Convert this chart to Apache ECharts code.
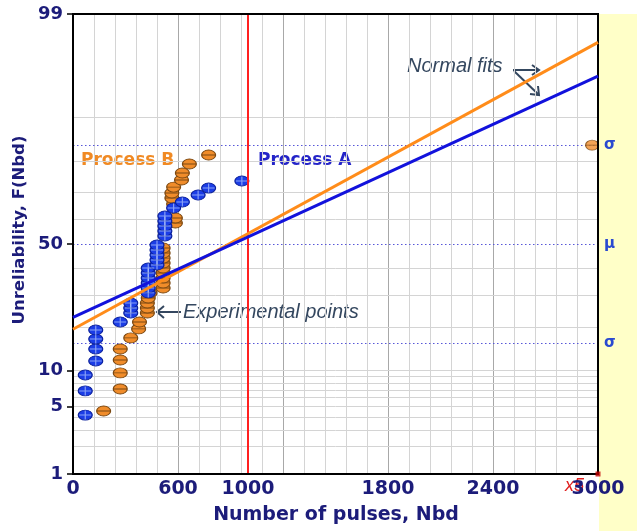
<!DOCTYPE html>
<html><head><meta charset="utf-8">
<script src="https://cdn.jsdelivr.net/npm/echarts@6/dist/echarts.min.js"></script>
<style>html,body{margin:0;padding:0;background:#fff}#c{width:637px;height:531px}</style>
</head><body><div id="c"></div>
<script>
// ---- tick labels ----
const xTickLabels = [0, 600, 1000, 1800, 2400, 3000];
const yTickLabels = [1, 5, 10, 50, 99];
const hGridProbs = [2, 3, 4, 5, 6, 7, 8, 9, 10, 20, 30, 40, 60, 70, 80, 90];
const sigmaProbs = [15.87, 50, 84.13];
const sigmaLabels = ['σ', 'μ', 'σ'];
// ---- Process A (blue) : number of pulses, unreliability % ----
const processA_N = [70, 70, 70, 130, 130, 130, 130, 270, 330, 330, 330, 430, 430, 430, 430, 430, 430, 480, 480, 480, 480, 480, 525, 525, 525, 525, 525, 575, 625, 715, 775, 965];
const processA_F = [4.18, 6.86, 9.26, 11.84, 14.41, 16.82, 19.22, 21.5, 24.26, 25.88, 27.53, 31.03, 32.82, 34.68, 36.54, 38.48, 40.40, 41.60, 43.56, 45.58, 47.57, 49.60, 53.23, 55.21, 57.22, 59.21, 61.14, 64.21, 66.46, 69.00, 71.43, 73.79];
// ---- Process B (orange) ----
const processB_N = [175, 270, 270, 270, 270, 330, 375, 380, 425, 425, 425, 430, 440, 515, 515, 515, 515, 515, 515, 515, 515, 515, 585, 585, 575, 565, 565, 575, 620, 625, 665, 775];
const processB_F = [4.56, 7.13, 9.61, 12.04, 14.41, 17.11, 19.52, 21.5, 24.26, 25.88, 27.53, 29.26, 31.03, 32.82, 34.68, 36.54, 38.48, 40.40, 42.39, 44.35, 46.37, 48.40, 58.40, 60.37, 65.69, 67.90, 69.71, 71.77, 74.12, 76.36, 79.08, 81.59];
// ---- normal fits ----
const fitA_N = [0, 3000];
const fitA_F = [22.93, 95.53];
const fitB_N = [0, 3000];
const fitB_F = [19.42, 97.93];
// ---- extra marks ----
const markerB_N = [2966];
const markerB_F = [84.13];
const offScale_N = [3000];
const offScale_F = [1];
const redLineN = [1000];

function probit(p) {
  const a = [-3.969683028665376e+01, 2.209460984245205e+02, -2.759285104469687e+02, 1.383577518672690e+02, -3.066479806614716e+01, 2.506628277459239e+00];
  const b = [-5.447609879822406e+01, 1.615858368580409e+02, -1.556989798598866e+02, 6.680131188771972e+01, -1.328068155288572e+01];
  const c = [-7.784894002430293e-03, -3.223964580411365e-01, -2.400758277161838e+00, -2.549732539343734e+00, 4.374664141464968e+00, 2.938163982698783e+00];
  const d = [7.784695709041462e-03, 3.224671290700398e-01, 2.445134137142996e+00, 3.754408661907416e+00];
  const plow = 0.02425, phigh = 1 - plow;
  let q, r;
  if (p < plow) { q = Math.sqrt(-2 * Math.log(p)); return (((((c[0]*q+c[1])*q+c[2])*q+c[3])*q+c[4])*q+c[5]) / ((((d[0]*q+d[1])*q+d[2])*q+d[3])*q+1); }
  if (p <= phigh) { q = p - 0.5; r = q*q; return (((((a[0]*r+a[1])*r+a[2])*r+a[3])*r+a[4])*r+a[5])*q / (((((b[0]*r+b[1])*r+b[2])*r+b[3])*r+b[4])*r+1); }
  q = Math.sqrt(-2 * Math.log(1 - p)); return -(((((c[0]*q+c[1])*q+c[2])*q+c[3])*q+c[4])*q+c[5]) / ((((d[0]*q+d[1])*q+d[2])*q+d[3])*q+1);
}
const z = f => probit(f / 100);
const pairs = (xs, fs) => xs.map((x, i) => [x, z(fs[i])]);

const ELLIPSE = 'path://M0,50A50,50 0 1 1 100,50A50,50 0 1 1 0,50Z';
const ELLIPSE_MID = 'path://M0,50A50,50 0 1 1 100,50A50,50 0 1 1 0,50ZM0,50L100,50';
const STRIPES = 'path://M0,50L100,50M50,10L50,90';
const NAVY = '#1c1c7a';
const SLATE = '#34475f';
const tickFont = '"DejaVu Sans", Verdana, sans-serif';

const yMin = z(1), yMax = z(99);
const yLabelVals = yTickLabels.map(z);

const chart = echarts.init(document.getElementById('c'), null, { renderer: 'canvas' });
chart.setOption({
  animation: false,
  backgroundColor: '#ffffff',
  grid: { left: 73, right: 39, top: 14, bottom: 57, show: true, borderColor: '#000', borderWidth: 2, backgroundColor: 'transparent', z: 6 },
  xAxis: [
    { type: 'value', min: 0, max: 3000, interval: 120, position: 'bottom',
      axisLine: { show: true, onZero: false, lineStyle: { color: '#000', width: 2 } }, axisTick: { show: false }, axisLabel: { show: false },
      splitLine: { show: true, lineStyle: { color: '#d4d4d4', width: 1 } } },
    { type: 'value', min: 0, max: 3000, interval: 600, position: 'bottom',
      axisLine: { show: false, onZero: false }, axisTick: { show: false }, axisLabel: { show: false },
      splitLine: { show: true, lineStyle: { color: '#a8a8a8', width: 1 } } },
    { type: 'value', min: 0, max: 3000, interval: 200, position: 'bottom',
      axisLine: { show: false, onZero: false }, axisTick: { show: false }, splitLine: { show: false },
      axisLabel: { show: true, interval: 0, margin: 6, showMinLabel: true, showMaxLabel: true,
        color: NAVY, fontFamily: tickFont, fontWeight: 'bold', fontSize: 19,
        formatter: v => xTickLabels.indexOf(v) >= 0 ? String(v) : '' } }
  ],
  yAxis: [{
    type: 'value', min: yMin, max: yMax,
    axisLine: { show: true, onZero: false, lineStyle: { color: '#000', width: 2 } },
    axisTick: { show: true, length: 6, customValues: yLabelVals, lineStyle: { color: '#000', width: 1.5 } },
    axisLabel: { show: true, margin: 10, customValues: yLabelVals, color: NAVY, fontFamily: tickFont, fontWeight: 'bold', fontSize: 18,
      formatter: v => { for (const t of yTickLabels) { if (Math.abs(z(t) - v) < 1e-6) return String(t); } return ''; } },
    splitLine: { show: false }
  }],
  series: [
    { type: 'line', name: 'hgrid', data: [], z: 1, silent: true,
      markLine: { silent: true, z: 1, symbol: ['none', 'none'], label: { show: false },
        lineStyle: { color: '#d4d4d4', width: 1, type: 'solid' },
        data: hGridProbs.map(p => ({ yAxis: z(p) })) } },
    { type: 'line', name: 'sigma', data: [], z: 2, silent: true,
      markLine: { silent: true, z: 2, symbol: ['none', 'none'],
        label: { show: true, position: 'end', formatter: '{b}', color: '#2a4ad0', fontSize: 15, fontWeight: 'bold', fontFamily: '"DejaVu Sans", sans-serif', distance: 6 },
        lineStyle: { color: '#5656d8', width: 1.2, type: [1.5, 2.5] },
        data: sigmaProbs.map((p, i) => ({ yAxis: z(p), name: sigmaLabels[i] })) } },
    { type: 'scatter', name: 'Process B', data: pairs(processB_N, processB_F), z: 3,
      symbol: ELLIPSE_MID, symbolSize: [14, 10],
      itemStyle: { color: '#f08c2a', borderColor: '#7a4812', borderWidth: 1, opacity: 1 } },
    { type: 'scatter', name: 'Process A', data: pairs(processA_N, processA_F), z: 4,
      symbol: ELLIPSE, symbolSize: [14, 10],
      itemStyle: { color: '#1b3de6', borderColor: '#0a1f9a', borderWidth: 1, opacity: 1 } },
    { type: 'scatter', name: 'Process A glare', data: pairs(processA_N, processA_F), z: 4, silent: true,
      symbol: STRIPES, symbolSize: [12, 9],
      itemStyle: { color: 'rgba(0,0,0,0)', borderColor: 'rgba(190,210,255,0.85)', borderWidth: 1 } },
    { type: 'scatter', name: 'B marker', data: pairs(markerB_N, markerB_F), z: 4, clip: false,
      symbol: ELLIPSE_MID, symbolSize: [13, 10],
      itemStyle: { color: '#f08c2a', borderColor: '#7a4812', borderWidth: 1 } },
    { type: 'line', name: 'redline', data: [], z: 5, silent: true,
      markLine: { silent: true, z: 5, symbol: ['none', 'none'], label: { show: false },
        lineStyle: { color: '#ff2020', width: 2, type: 'solid' },
        data: redLineN.map(v => ({ xAxis: v })) } },
    { type: 'line', name: 'Fit B', data: pairs(fitB_N, fitB_F), z: 6, showSymbol: false, symbol: 'none',
      lineStyle: { color: '#ff8c1a', width: 3 } },
    { type: 'line', name: 'Fit A', data: pairs(fitA_N, fitA_F), z: 6, showSymbol: false, symbol: 'none',
      lineStyle: { color: '#1212dc', width: 3 } },
    { type: 'scatter', name: 'off scale', data: pairs(offScale_N, offScale_F), z: 7, clip: false,
      symbol: 'rect', symbolSize: 5, itemStyle: { color: '#c00000' } }
  ],
  graphic: [
    { type: 'rect', z: -1, shape: { x: 599, y: 14, width: 38, height: 517 }, style: { fill: '#ffffc8' } },
    { type: 'text', x: 81, y: 161, style: { text: 'Process B', fill: '#f08a24', font: 'bold 17px "DejaVu Sans", Verdana, sans-serif', textAlign: 'left', textVerticalAlign: 'middle', align: 'left', verticalAlign: 'middle' } },
    { type: 'text', x: 258, y: 161, style: { text: 'Process A', fill: '#2424c8', font: 'bold 17px "DejaVu Sans", Verdana, sans-serif', textAlign: 'left', textVerticalAlign: 'middle', align: 'left', verticalAlign: 'middle' } },
    { type: 'text', x: 407, y: 66, style: { text: 'Normal fits', fill: SLATE, font: 'italic 20px "Liberation Sans", Arial, sans-serif', textAlign: 'left', textVerticalAlign: 'middle', align: 'left', verticalAlign: 'middle' } },
    { type: 'text', x: 183, y: 312, style: { text: 'Experimental points', fill: SLATE, font: 'italic 20px "Liberation Sans", Arial, sans-serif', textAlign: 'left', textVerticalAlign: 'middle', align: 'left', verticalAlign: 'middle' } },
    { type: 'polyline', shape: { points: [[181, 312], [157, 312]] }, style: { stroke: SLATE, lineWidth: 2, fill: null } },
    { type: 'polyline', shape: { points: [[164, 306], [157, 312], [164, 318]] }, style: { stroke: SLATE, lineWidth: 2, fill: null } },
    { type: 'polyline', shape: { points: [[513, 70], [539, 70]] }, style: { stroke: SLATE, lineWidth: 2, fill: null } },
    { type: 'polyline', shape: { points: [[532, 65], [539, 70], [532, 75]] }, style: { stroke: SLATE, lineWidth: 2, fill: null } },
    { type: 'polyline', shape: { points: [[514, 71], [539, 95]] }, style: { stroke: SLATE, lineWidth: 2, fill: null } },
    { type: 'polyline', shape: { points: [[538, 86], [539, 95], [530, 94]] }, style: { stroke: SLATE, lineWidth: 2, fill: null } },
    { type: 'text', x: 20, y: 230, rotation: Math.PI / 2, style: { text: 'Unreliability, F(Nbd)', fill: NAVY, font: 'bold 16.5px "DejaVu Sans", Verdana, sans-serif', textAlign: 'center', textVerticalAlign: 'middle', align: 'center', verticalAlign: 'middle' } },
    { type: 'text', x: 336, y: 515, style: { text: 'Number of pulses, Nbd', fill: NAVY, font: 'bold 19px "DejaVu Sans", Verdana, sans-serif', textAlign: 'center', textVerticalAlign: 'middle', align: 'center', verticalAlign: 'middle' } },
    { type: 'text', x: 565, y: 486, style: { text: 'x5', fill: '#e02020', font: 'italic 18px "Liberation Sans", Arial, sans-serif', textAlign: 'left', textVerticalAlign: 'middle', align: 'left', verticalAlign: 'middle' } }
  ]
});
</script>
</body></html>
